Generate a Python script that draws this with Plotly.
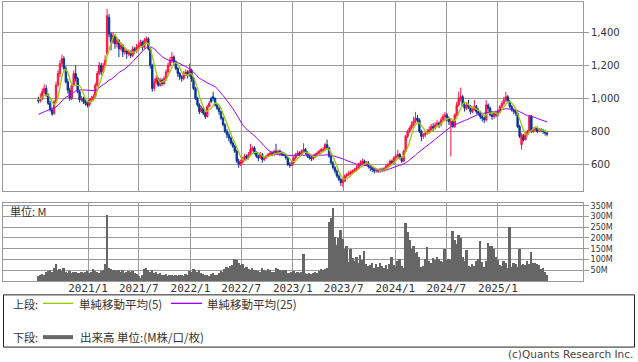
import pandas as pd
import plotly.graph_objects as go

# ---------------- data (weekly) ----------------
start_date = "2020-07-08"

opens = [
    990, 985, 1000, 1040, 1060, 1020, 970, 930, 910, 980,
    1080, 1150, 1210, 1240, 1180, 1100, 1050, 1000, 1080, 1150,
    1120, 1040, 990, 1000, 980, 970, 960, 990, 1000, 1010,
    1080, 1150, 1200, 1160, 1200, 1270, 1490, 1390, 1340, 1380,
    1330, 1350, 1300, 1320, 1280, 1290, 1270, 1280, 1260, 1300,
    1290, 1310, 1320, 1340, 1310, 1350, 1360, 1300, 1200, 1060,
    1100, 1120, 1080, 1110, 1090, 1120, 1160, 1200, 1230, 1250,
    1220, 1180, 1150, 1130, 1120, 1150, 1160, 1140, 1170, 1120,
    1060, 1000, 960, 920, 940, 910, 890, 950, 1000, 1010,
    1000, 960, 940, 920, 880, 840, 800, 780, 760, 730,
    710, 680, 620, 600, 615, 630, 650, 640, 660, 690,
    700, 670, 650, 640, 660, 630, 640, 650, 660, 670,
    660, 680, 670, 680, 670, 665, 660, 640, 600, 595,
    610, 640, 660, 670, 660, 680, 690, 670, 650, 640,
    635, 650, 660, 670, 680, 685, 690, 720, 700, 650,
    610, 580, 560, 530, 510, 490, 500, 530, 540, 545,
    555, 560, 570, 580, 600, 610, 620, 600, 610, 590,
    580, 570, 560, 565, 560, 570, 565, 575, 590, 600,
    620, 610, 640, 650, 660, 640, 620, 680, 770, 800,
    820, 840, 860, 880, 870, 800, 770, 780, 790, 800,
    810, 830, 820, 840, 850, 840, 870, 890, 900, 880,
    840, 860, 830, 900, 960, 1000, 1010, 960, 940, 960,
    950, 920, 940, 950, 920, 910, 890, 880, 870, 960,
    940, 900, 890, 910, 900, 920, 950, 970, 990, 1010,
    980, 950, 930, 920, 910, 830, 720, 770, 750, 780,
    800, 890, 800, 810, 820, 800, 810, 805, 800, 790,
]

highs = [
    1010, 1030, 1060, 1085, 1080, 1030, 985, 945, 990, 1100,
    1170, 1230, 1265, 1255, 1195, 1120, 1065, 1095, 1170, 1200,
    1130, 1050, 1015, 1010, 995, 985, 1000, 1015, 1025, 1095,
    1165, 1220, 1215, 1215, 1260, 1540, 1510, 1400, 1400, 1390,
    1370, 1360, 1340, 1330, 1305, 1300, 1295, 1290, 1315, 1310,
    1330, 1340, 1355, 1350, 1365, 1375, 1370, 1310, 1210, 1120,
    1140, 1130, 1125, 1120, 1135, 1175, 1215, 1250, 1280, 1260,
    1230, 1190, 1160, 1140, 1165, 1175, 1170, 1210, 1180, 1130,
    1070, 1010, 970, 955, 950, 920, 960, 985, 1010, 1040,
    1005, 970, 950, 925, 890, 850, 815, 795, 770, 745,
    720, 690, 635, 630, 645, 665, 660, 675, 725, 710,
    710, 680, 660, 675, 670, 650, 660, 670, 680, 680,
    690, 725, 690, 690, 680, 675, 665, 645, 615, 620,
    650, 670, 685, 680, 690, 728, 700, 680, 660, 655,
    660, 670, 680, 690, 700, 705, 730, 750, 705, 660,
    620, 590, 570, 540, 520, 515, 540, 550, 560, 565,
    570, 580, 595, 610, 625, 636, 630, 620, 620, 600,
    590, 580, 575, 575, 580, 580, 585, 600, 610, 630,
    630, 650, 665, 690, 670, 650, 690, 780, 810, 830,
    860, 890, 918, 900, 880, 810, 790, 800, 815, 830,
    845, 850, 855, 870, 860, 885, 905, 918, 910, 890,
    875, 870, 910, 980, 1040, 1065, 1020, 980, 975, 990,
    960, 950, 990, 960, 940, 925, 900, 890, 990, 970,
    950, 910, 920, 920, 935, 960, 985, 1010, 1040, 1020,
    990, 960, 940, 935, 920, 840, 790, 785, 795, 810,
    900, 900, 825, 830, 830, 820, 820, 815, 810, 800,
]

lows = [
    970, 975, 990, 1025, 1010, 960, 920, 895, 900, 970,
    1070, 1130, 1190, 1170, 1090, 1030, 985, 990, 1070, 1100,
    1030, 975, 980, 965, 955, 945, 950, 980, 990, 1000,
    1070, 1140, 1140, 1150, 1190, 1260, 1370, 1290, 1330, 1300,
    1310, 1250, 1290, 1250, 1265, 1240, 1255, 1245, 1250, 1270,
    1275, 1295, 1310, 1290, 1300, 1330, 1290, 1180, 1040, 1045,
    1085, 1070, 1070, 1075, 1080, 1105, 1150, 1190, 1215, 1200,
    1170, 1130, 1110, 1100, 1110, 1135, 1120, 1130, 1100, 1050,
    990, 950, 905, 910, 900, 875, 885, 945, 970, 985,
    950, 930, 900, 870, 830, 790, 760, 740, 720, 700,
    670, 610, 580, 590, 605, 620, 630, 630, 655, 680,
    660, 640, 620, 635, 610, 620, 635, 645, 650, 650,
    650, 660, 660, 655, 650, 650, 630, 590, 580, 590,
    600, 630, 650, 650, 655, 670, 660, 640, 630, 620,
    625, 640, 650, 660, 670, 675, 680, 690, 640, 600,
    570, 545, 520, 500, 470, 462, 495, 520, 530, 535,
    540, 550, 560, 575, 590, 600, 590, 590, 575, 560,
    555, 545, 550, 550, 550, 555, 555, 570, 585, 595,
    600, 600, 630, 640, 630, 610, 615, 675, 760, 790,
    810, 830, 850, 850, 790, 740, 755, 765, 780, 790,
    795, 800, 810, 830, 820, 830, 860, 870, 860, 840,
    648, 820, 820, 890, 950, 980, 950, 920, 930, 935,
    905, 910, 925, 905, 895, 875, 860, 850, 860, 920,
    890, 870, 875, 885, 890, 910, 940, 960, 980, 970,
    940, 920, 905, 895, 820, 760, 690, 740, 745, 770,
    790, 790, 790, 800, 790, 795, 795, 785, 775, 770,
]

closes = [
    985, 1000, 1040, 1060, 1020, 970, 930, 905, 980, 1080,
    1150, 1210, 1240, 1180, 1100, 1050, 1000, 1080, 1150, 1120,
    1040, 990, 1000, 980, 970, 960, 990, 1000, 1010, 1080,
    1150, 1200, 1160, 1200, 1230, 1500, 1390, 1340, 1380, 1330,
    1350, 1300, 1320, 1280, 1290, 1270, 1280, 1260, 1300, 1290,
    1310, 1320, 1340, 1310, 1350, 1360, 1300, 1200, 1060, 1100,
    1120, 1080, 1110, 1090, 1120, 1160, 1200, 1230, 1250, 1220,
    1180, 1150, 1130, 1120, 1150, 1160, 1140, 1170, 1120, 1060,
    1000, 960, 920, 940, 910, 890, 950, 970, 980, 1000,
    960, 940, 920, 880, 840, 800, 780, 760, 730, 710,
    680, 620, 600, 615, 630, 650, 640, 660, 690, 700,
    670, 650, 640, 660, 630, 640, 650, 660, 670, 660,
    680, 670, 680, 670, 660, 660, 640, 600, 595, 610,
    640, 660, 670, 660, 680, 690, 670, 650, 640, 635,
    650, 660, 670, 680, 690, 690, 720, 700, 650, 610,
    580, 560, 530, 510, 490, 500, 530, 540, 545, 555,
    560, 570, 580, 600, 610, 620, 600, 610, 590, 580,
    570, 560, 565, 560, 570, 565, 575, 590, 600, 620,
    610, 640, 650, 660, 640, 620, 680, 770, 800, 820,
    840, 860, 880, 870, 800, 770, 780, 790, 800, 810,
    830, 820, 840, 850, 840, 870, 890, 900, 880, 860,
    860, 830, 900, 960, 1000, 1010, 960, 940, 960, 950,
    920, 940, 950, 920, 910, 890, 880, 870, 960, 940,
    900, 890, 910, 900, 920, 950, 970, 990, 1010, 980,
    950, 930, 920, 910, 830, 770, 780, 750, 780, 800,
    890, 800, 810, 820, 800, 810, 805, 800, 790, 785,
]

volumes_m = [
    20, 25, 30, 28, 40, 45, 50, 42, 60, 80,
    50, 55, 45, 60, 40, 38, 45, 35, 42, 40,
    38, 35, 42, 36, 40, 45, 38, 40, 55, 45,
    42, 38, 45, 50, 80, 307, 60, 55, 50, 48,
    45, 52, 40, 48, 38, 42, 45, 40, 46, 35,
    30, 22, 15, 25, 55, 60, 50, 40, 48, 38,
    42, 30, 35, 28, 25, 30, 22, 28, 25, 24,
    26, 20, 28, 25, 22, 30, 28, 45, 40, 55,
    48, 42, 50, 35, 30, 25, 28, 22, 30, 35,
    28, 25, 38, 45, 40, 55, 65, 60, 70, 75,
    100, 95, 85, 75, 80, 60, 65, 55, 50, 60,
    48, 52, 45, 40, 58, 50, 45, 55, 48, 40,
    42, 60, 55, 50, 45, 48, 52, 35, 38, 40,
    45, 35, 40, 38, 42, 124, 35, 32, 38, 30,
    35, 40, 38, 45, 55, 50, 57, 60, 275, 294,
    340, 202, 165, 197, 238, 193, 150, 160, 87, 150,
    105, 90, 110, 85, 120, 95, 140, 80, 70, 75,
    85, 60, 78, 65, 82, 70, 60, 72, 55, 80,
    110, 75, 65, 90, 100, 70, 60, 270, 225, 188,
    147, 160, 128, 133, 110, 65, 70, 100, 155, 90,
    85, 105, 95, 110, 100, 92, 88, 147, 95, 100,
    95, 233, 188, 173, 215, 197, 110, 92, 142, 70,
    65, 80, 70, 90, 100, 183, 88, 65, 90, 174,
    160, 160, 150, 110, 95, 75, 70, 90, 85, 60,
    252, 65, 85, 80, 65, 147, 75, 80, 75, 90,
    80, 133, 85, 82, 78, 72, 55, 60, 40, 28,
]

# weekly closes before the first drawn candle (feed the moving averages)
pre_closes = [870, 860, 880, 900, 870, 860, 850, 880, 890, 900,
              870, 880, 890, 900, 880, 870, 890, 900, 880, 905,
              970, 990, 1000, 1005]

price_ticks = [600, 800, 1000, 1200, 1400]
vol_ticks = [50, 100, 150, 200, 250, 300, 350]
vol_tick_labels = ["50M", "100M", "150M", "200M", "250M", "300M", "350M"]
date_ticks = ["2021-01-01", "2021-07-01", "2022-01-01", "2022-07-01", "2023-01-01",
              "2023-07-01", "2024-01-01", "2024-07-01", "2025-01-01"]
date_tick_labels = ["2021/1", "2021/7", "2022/1", "2022/7", "2023/1",
                    "2023/7", "2024/1", "2024/7", "2025/1"]

n = len(closes)
assert len(opens) == n and len(highs) == n and len(lows) == n and len(volumes_m) == n, \
    (len(opens), len(highs), len(lows), len(closes), len(volumes_m))

dates = pd.date_range(start_date, periods=n, freq="7D")
all_closes = pd.Series(pre_closes + closes, dtype=float)
ma5 = all_closes.rolling(5).mean().iloc[len(pre_closes):].to_numpy()
ma25 = all_closes.rolling(25).mean().iloc[len(pre_closes):].to_numpy()

# ---------------- style ----------------
W, H = 638, 362
RED = "#ff1446"
BLUE = "#0a3597"
MA5_C = "#99cc00"
MA25_C = "#9b00ff"
VOL_C = "#666666"
GRID = "#9a9a9a"
TXT = "#333333"


def px(x):
    return x / W


def py(y):
    return 1 - y / H


x_dom = [px(3), px(583)]
x_range = ["2020-03-04", "2025-10-31"]

fig = go.Figure()
fig.add_trace(go.Candlestick(
    x=dates, open=opens, high=highs, low=lows, close=closes,
    increasing=dict(line=dict(color=RED, width=1), fillcolor=RED),
    decreasing=dict(line=dict(color=BLUE, width=1), fillcolor=BLUE),
    whiskerwidth=0, showlegend=False, hoverinfo="skip",
    xaxis="x", yaxis="y"))
fig.add_trace(go.Scatter(x=dates, y=ma25, mode="lines",
                         line=dict(color=MA25_C, width=1),
                         showlegend=False, hoverinfo="skip", xaxis="x", yaxis="y"))
fig.add_trace(go.Scatter(x=dates, y=ma5, mode="lines",
                         line=dict(color=MA5_C, width=1.3),
                         showlegend=False, hoverinfo="skip", xaxis="x", yaxis="y"))
fig.add_trace(go.Bar(x=dates, y=volumes_m, marker=dict(color=VOL_C, line=dict(width=0)),
                     width=7 * 86400000, showlegend=False, hoverinfo="skip",
                     xaxis="x2", yaxis="y2"))

axis_common = dict(showgrid=True, gridcolor=GRID, gridwidth=1,
                   showline=True, linecolor=GRID, linewidth=1, mirror=True,
                   zeroline=False)

fig.update_layout(
    width=W, height=H,
    margin=dict(l=0, r=0, t=0, b=0),
    paper_bgcolor="white", plot_bgcolor="white",
    bargap=0, boxgap=0.3, boxgroupgap=0,
    xaxis=dict(domain=x_dom, type="date", range=x_range, anchor="y",
               tickvals=date_ticks, showticklabels=False, ticks="",
               rangeslider=dict(visible=False), **axis_common),
    yaxis=dict(domain=[py(190.3), py(0.5)], range=[438, 1580], side="right",
               tickvals=price_ticks, tickformat=",d", ticks="outside", ticklen=5,
               tickcolor=GRID, tickfont=dict(family="DejaVu Sans", size=10, color=TXT),
               anchor="x", **axis_common),
    xaxis2=dict(domain=x_dom, type="date", range=x_range, anchor="y2", matches="x",
                tickvals=date_ticks, ticktext=date_tick_labels, ticks="",
                ticklabelstandoff=-3,
                tickfont=dict(family="DejaVu Sans Mono", size=11, color=TXT),
                rangeslider=dict(visible=False), **axis_common),
    yaxis2=dict(domain=[py(280.5), py(202.3)], range=[0, 362], side="right",
                tickvals=vol_ticks, ticktext=vol_tick_labels, ticks="outside", ticklen=5,
                tickcolor=GRID, tickfont=dict(family="DejaVu Sans", size=8, color=TXT),
                anchor="x2", **axis_common),
)

CJK = "Noto Sans CJK JP"
shapes = [
    dict(type="rect", xref="paper", yref="paper", x0=px(3.5), x1=px(634.5),
         y0=py(347), y1=py(294.5), line=dict(color="#222222", width=1)),
    dict(type="line", xref="paper", yref="paper", x0=px(43), x1=px(73),
         y0=py(303), y1=py(303), line=dict(color=MA5_C, width=1.3)),
    dict(type="line", xref="paper", yref="paper", x0=px(171), x1=px(202),
         y0=py(303), y1=py(303), line=dict(color=MA25_C, width=1.3)),
    dict(type="line", xref="paper", yref="paper", x0=px(43), x1=px(73),
         y0=py(337), y1=py(337), line=dict(color=VOL_C, width=4)),
]
fig.update_layout(shapes=shapes)

ann = [
    (8, 210, "単位: M", 11),
    (11, 303.5, "上段:", 11),
    (77, 303.5, "単純移動平均(5)", 11.5),
    (205, 303.5, "単純移動平均(25)", 11.5),
    (11, 337, "下段:", 11),
    (78, 337, "出来高 単位:(M株/口/枚)", 11.5),
]
annotations = [dict(x=px(x), y=py(y), xref="paper", yref="paper", text=t,
                    showarrow=False, xanchor="left", yanchor="middle",
                    font=dict(family=CJK, size=s, color=TXT))
               for x, y, t, s in ann]
annotations.append(dict(x=px(635), y=py(354), xref="paper", yref="paper",
                        text="(c)Quants Research Inc.", showarrow=False,
                        xanchor="right", yanchor="middle",
                        font=dict(family="DejaVu Sans", size=10.5, color="#444444")))
fig.update_layout(annotations=annotations)

fig.write_html("out.html", config={"displayModeBar": False},
               post_script="document.body.style.margin='0';document.body.style.overflow='hidden';")
